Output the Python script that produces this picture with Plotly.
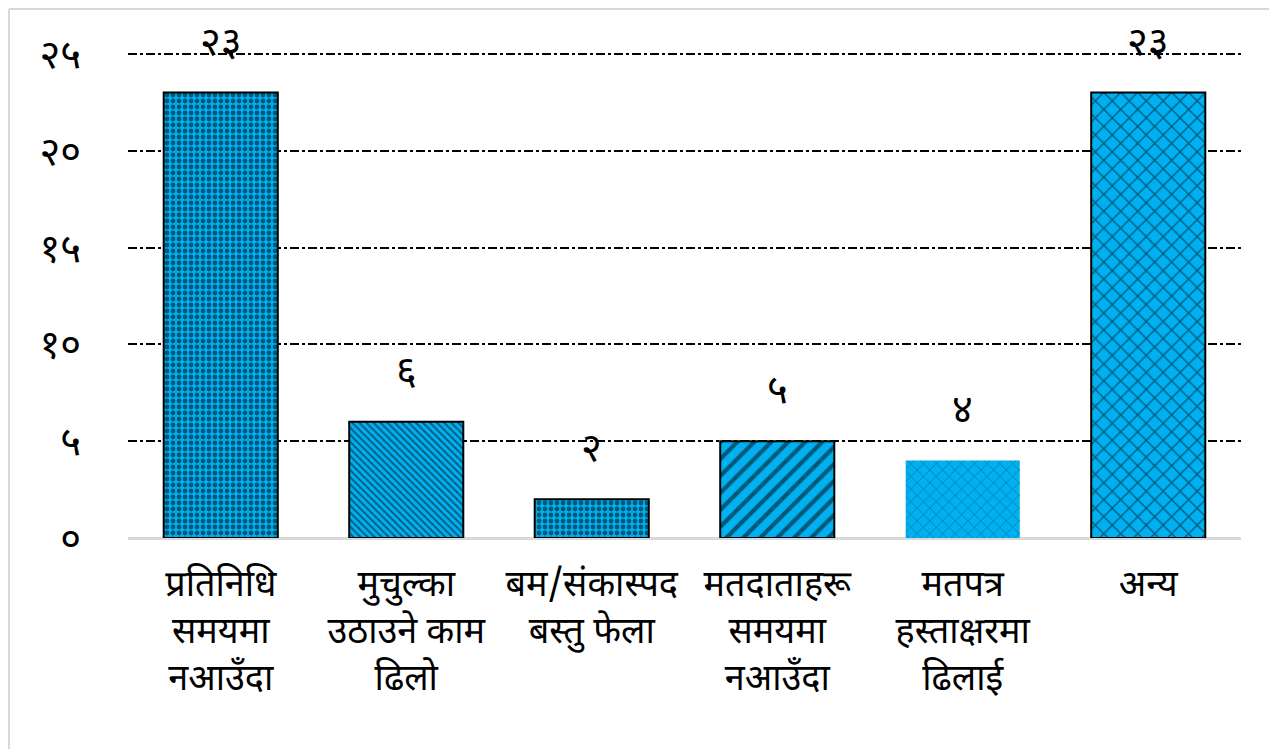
import plotly.graph_objects as go

categories = [
    "प्रतिनिधि<br>समयमा<br>नआउँदा",
    "मुचुल्का<br>उठाउने काम<br>ढिलो",
    "बम/संकास्पद<br>बस्तु फेला",
    "मतदाताहरू<br>समयमा<br>नआउँदा",
    "मतपत्र<br>हस्ताक्षरमा<br>ढिलाई",
    "अन्य",
]
values = [23, 6, 2, 5, 4, 23]
tick_values = [0, 5, 10, 15, 20, 25]
tick_labels = ["०", "५", "१०", "१५", "२०", "२५"]

DEV = str.maketrans("0123456789", "०१२३४५६७८९")
value_labels = [str(v).translate(DEV) for v in values]

FONT = "Noto Sans Devanagari, Lohit Devanagari, Mangal, FreeSans, sans-serif"
BLUE = "#00B0F0"

W, H = 1277, 749
L, R, T, B = 120, 44, 42, 219
PW = W - L - R
PH = H - T - B

fig = go.Figure()
fig.add_trace(go.Bar(
    x=categories,
    y=values,
    marker=dict(
        color=BLUE,
        line=dict(color="black", width=[2, 2, 2, 2, 0, 2]),
        pattern=dict(
            shape=[".", "\\", ".", "/", "x", "x"],
            fgcolor="black",
            size=[6, 5, 6, 12, 9, 12],
            solidity=[0.5, 0.35, 0.5, 0.35, 0.1, 0.2],
        ),
    ),
    width=0.615,
    hoverinfo="skip",
))

for c, v, t in zip(categories, values, value_labels):
    fig.add_annotation(
        x=c, y=v, text=t, showarrow=False, yanchor="middle", yshift=48,
        font=dict(size=40, color="black", family=FONT),
    )

# light grey frame (top and left edges)
fx = (1 - L) / PW
fy = 1 + (T - 1) / PH
fig.add_shape(type="line", xref="paper", yref="paper",
              x0=fx, x1=1 + R / PW, y0=fy, y1=fy,
              line=dict(color="#d9d9d9", width=2))
fig.add_shape(type="line", xref="paper", yref="paper",
              x0=fx, x1=fx, y0=-B / PH, y1=fy,
              line=dict(color="#d9d9d9", width=2))

fig.update_layout(
    width=W, height=H,
    margin=dict(l=L, r=R, t=T, b=B),
    paper_bgcolor="white", plot_bgcolor="white",
    showlegend=False,
    font=dict(family=FONT, color="black"),
    xaxis=dict(
        tickfont=dict(size=36, family=FONT, color="black"),
        showgrid=False, showline=False, ticks="",
        ticklabelstandoff=21,
    ),
    yaxis=dict(
        range=[0, 25.2],
        tickvals=tick_values, ticktext=tick_labels,
        tickfont=dict(size=40, family=FONT, color="black"),
        showgrid=True, gridcolor="black", griddash="dashdot", gridwidth=1.5,
        zeroline=True, zerolinecolor="#d9d9d9", zerolinewidth=3,
        showline=False, ticks="", ticklabelstandoff=46,
    ),
)

fig.write_html("out.html")
